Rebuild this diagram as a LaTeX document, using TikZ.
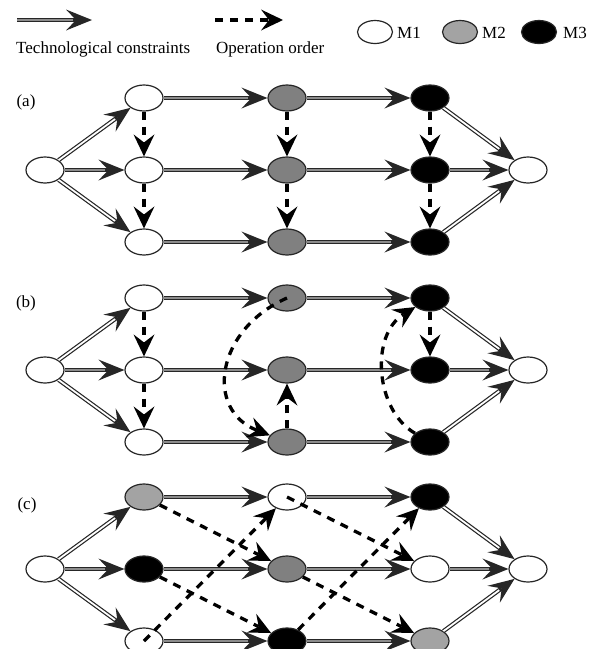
\documentclass[tikz,border=0pt]{standalone}
\usepackage{fontspec}
\setmainfont{Liberation Serif}
\usetikzlibrary{arrows.meta,shapes.geometric}
\definecolor{gA}{HTML}{808080}
\definecolor{gL}{HTML}{A3A3A3}
\tikzset{
  mnode/.style={ellipse, draw=black!85, line width=1.2pt, minimum width=38pt, minimum height=26pt, inner sep=0pt},
  mw/.style={mnode, fill=white},
  mg/.style={mnode, fill=gA},
  ml/.style={mnode, fill=gL},
  mb/.style={mnode, fill=black},
  lgnode/.style={ellipse, draw=black!85, line width=1.2pt, minimum width=35pt, minimum height=23pt, inner sep=0pt},
  txt/.style={font=\fontsize{17}{20}\selectfont, inner sep=0pt},
  tcout/.style={line width=3.6pt, draw=black!85, -{Stealth[length=26pt,width=21pt,inset=10pt,line width=0pt]}},
  tcin/.style={line width=1.2pt, draw=black!45, shorten >=19pt},
  oo/.style={line width=3.3pt, draw=black, dash pattern=on 8pt off 7pt, -{Stealth[length=22pt,width=21pt,inset=8pt,line width=0pt]}},
}
\newcommand\tcH[2]{\draw[tcout] (#1) -- (#2); \draw[tcin] (#1) -- (#2);}
\newcommand\tcD[2]{\draw[tcout, line width=4.2pt] (#1) -- (#2); \draw[tcin, line width=1.8pt, draw=white] (#1) -- (#2);}
\begin{document}
\begin{tikzpicture}[x=1pt, y=-1pt]
\useasboundingbox (0,0) rectangle (597,649);
\fill[white] (0,0) rectangle (597,649);
\clip (0,0) rectangle (597,649);

% legend
\coordinate (ls1) at (17,20);
\coordinate (le1) at (92,20);
\coordinate (ls2) at (215,20);
\coordinate (le2) at (283,20);
\tcH{ls1}{le1}
\draw[oo] (ls2) -- (le2);
\node[txt, anchor=base west] (t1) at (16,53) {Technological constraints};
\node[txt, anchor=base west] (t2) at (216,53) {Operation order};
\node[lgnode, fill=white] (lg1) at (375,32) {};
\node[txt, anchor=base west] (lm1) at (397,38) {M1};
\node[lgnode, fill=gL] (lg2) at (460,32) {};
\node[txt, anchor=base west] (lm2) at (482,38) {M2};
\node[lgnode, fill=black] (lg3) at (539,32) {};
\node[txt, anchor=base west] (lm3) at (563,38) {M3};

% panel labels
\node[txt] (la) at (26,102) {(a)};
\node[txt] (lb) at (26,303) {(b)};
\node[txt] (lc) at (27,505) {(c)};

% panel (a)
\node[mw] (a0) at (45,170) {};
\node[mw] (a1) at (144,98) {};
\node[mw] (a2) at (144,170) {};
\node[mw] (a3) at (144,242) {};
\node[mg] (a4) at (287,98) {};
\node[mg] (a5) at (287,170) {};
\node[mg] (a6) at (287,242) {};
\node[mb] (a7) at (430,98) {};
\node[mb] (a8) at (430,170) {};
\node[mb] (a9) at (430,242) {};
\node[mw] (aE) at (528,170) {};

% panel (b)
\node[mw] (b0) at (45,370) {};
\node[mw] (b1) at (144,298) {};
\node[mw] (b2) at (144,370) {};
\node[mw] (b3) at (144,442) {};
\node[mg] (b4) at (287,298) {};
\node[mg] (b5) at (287,370) {};
\node[mg] (b6) at (287,442) {};
\node[mb] (b7) at (430,298) {};
\node[mb] (b8) at (430,370) {};
\node[mb] (b9) at (430,442) {};
\node[mw] (bE) at (528,370) {};

% panel (c)
\node[mw] (c0) at (45,569) {};
\node[ml] (c1) at (144,497) {};
\node[mb] (c2) at (144,569) {};
\node[mw] (c3) at (144,641) {};
\node[mw] (c4) at (287,497) {};
\node[mg] (c5) at (287,569) {};
\node[mb] (c6) at (287,641) {};
\node[mb] (c7) at (430,497) {};
\node[mw] (c8) at (430,569) {};
\node[ml] (c9) at (430,641) {};
\node[mw] (cE) at (528,569) {};

% technological constraints
\foreach \p in {a,b,c}{
  \tcD{\p0}{\p1}
  \tcH{\p0}{\p2}
  \tcD{\p0}{\p3}
  \tcH{\p1}{\p4}
  \tcH{\p4}{\p7}
  \tcD{\p7}{\p E}
  \tcH{\p2}{\p5}
  \tcH{\p5}{\p8}
  \tcH{\p8}{\p E}
  \tcH{\p3}{\p6}
  \tcH{\p6}{\p9}
  \tcD{\p9}{\p E}
}

% operation order (a)
\draw[oo] (a1) -- (a2);
\draw[oo] (a2) -- (a3);
\draw[oo] (a4) -- (a5);
\draw[oo] (a5) -- (a6);
\draw[oo] (a7) -- (a8);
\draw[oo] (a8) -- (a9);

% operation order (b)
\draw[oo] (b1) -- (b2);
\draw[oo] (b2) -- (b3);
\draw[oo] (b4.center) .. controls (215,330) and (205,410) .. (b6);
\draw[oo] (b6) -- (b5);
\draw[oo] (b9) .. controls (375,410) and (370,335) .. (b7);
\draw[oo] (b7) -- (b8);

% operation order (c)
\draw[oo] (c1) -- (c5);
\draw[oo] (c2) -- (c6);
\draw[oo] (c3.center) -- (c4);
\draw[oo] (c4.center) -- (c8);
\draw[oo] (c5) -- (c9);
\draw[oo] (c6) -- (c7);
\end{tikzpicture}
\end{document}
